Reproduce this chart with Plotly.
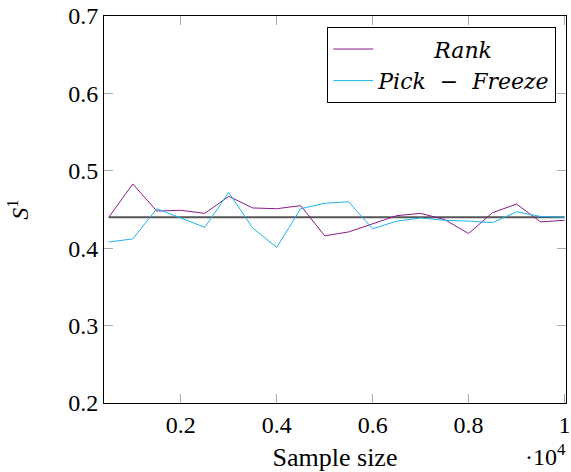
import plotly.graph_objects as go

sample_size = [500, 1000, 1500, 2000, 2500, 3000, 3500, 4000, 4500, 5000,
               5500, 6000, 6500, 7000, 7500, 8000, 8500, 9000, 9500, 10000]
rank = [0.440, 0.483, 0.448, 0.449, 0.445, 0.467, 0.452, 0.451, 0.455, 0.416,
        0.421, 0.431, 0.442, 0.445, 0.437, 0.419, 0.446, 0.457, 0.434, 0.436]
pick_freeze = [0.408, 0.412, 0.451, 0.439, 0.427, 0.472, 0.426, 0.401, 0.451, 0.458,
               0.460, 0.425, 0.435, 0.439, 0.436, 0.435, 0.433, 0.447, 0.441, 0.440]
reference = [0.44] * len(sample_size)

x_tickvals = [2000, 4000, 6000, 8000, 10000]
x_ticktext = ["0.2", "0.4", "0.6", "0.8", "1"]
y_tickvals = [0.2, 0.3, 0.4, 0.5, 0.6, 0.7]
y_ticktext = ["0.2", "0.3", "0.4", "0.5", "0.6", "0.7"]

FONT = "'Liberation Serif', 'DejaVu Serif', serif"
LFONT = "'DejaVu Serif', serif"

fig = go.Figure()
fig.add_trace(go.Scatter(x=sample_size, y=reference, mode="lines",
                         line=dict(color="#555555", width=2), showlegend=False))
fig.add_trace(go.Scatter(x=sample_size, y=rank, mode="lines",
                         name="        <i>Rank</i>",
                         line=dict(color="#8B1A8B", width=1)))
fig.add_trace(go.Scatter(x=sample_size, y=pick_freeze, mode="lines",
                         name="<i>Pick  −  Freeze</i>",
                         line=dict(color="#1EB4F0", width=1)))

fig.update_layout(
    width=571, height=472,
    margin=dict(l=104, r=5, t=16, b=69),
    paper_bgcolor="white", plot_bgcolor="white",
    font=dict(family=FONT, size=24, color="black"),
    showlegend=True,
    legend=dict(x=0.979, y=0.971, xanchor="right", yanchor="top",
                bordercolor="black", borderwidth=1, bgcolor="white",
                font=dict(family=LFONT, size=22), itemwidth=40,
                tracegroupgap=0),
    xaxis=dict(range=[400, 10030], tickvals=x_tickvals, ticktext=x_ticktext,
               ticks="inside", ticklen=9, tickcolor="#aaaaaa", tickwidth=1,
               showline=True, linecolor="black", linewidth=1, mirror="ticks",
               showgrid=False, zeroline=False, automargin=False,
               tickfont=dict(family=FONT, size=24),
               title=dict(text="Sample size", standoff=14,
                          font=dict(family=FONT, size=26))),
    yaxis=dict(range=[0.2, 0.7], tickvals=y_tickvals, ticktext=y_ticktext,
               ticks="inside", ticklen=9, tickcolor="#aaaaaa", tickwidth=1,
               showline=True, linecolor="black", linewidth=1, mirror="ticks",
               showgrid=False, zeroline=False, automargin=False,
               tickfont=dict(family=FONT, size=24),
               title=dict(text="<i>S</i><sup>1</sup>", standoff=32,
                          font=dict(family=FONT, size=24))),
)

fig.add_annotation(xref="paper", yref="paper", x=1.005, y=-0.09,
                   xanchor="right", yanchor="top", showarrow=False,
                   text="·10<sup>4</sup>", font=dict(family=FONT, size=24))

fig.write_html("out.html")
